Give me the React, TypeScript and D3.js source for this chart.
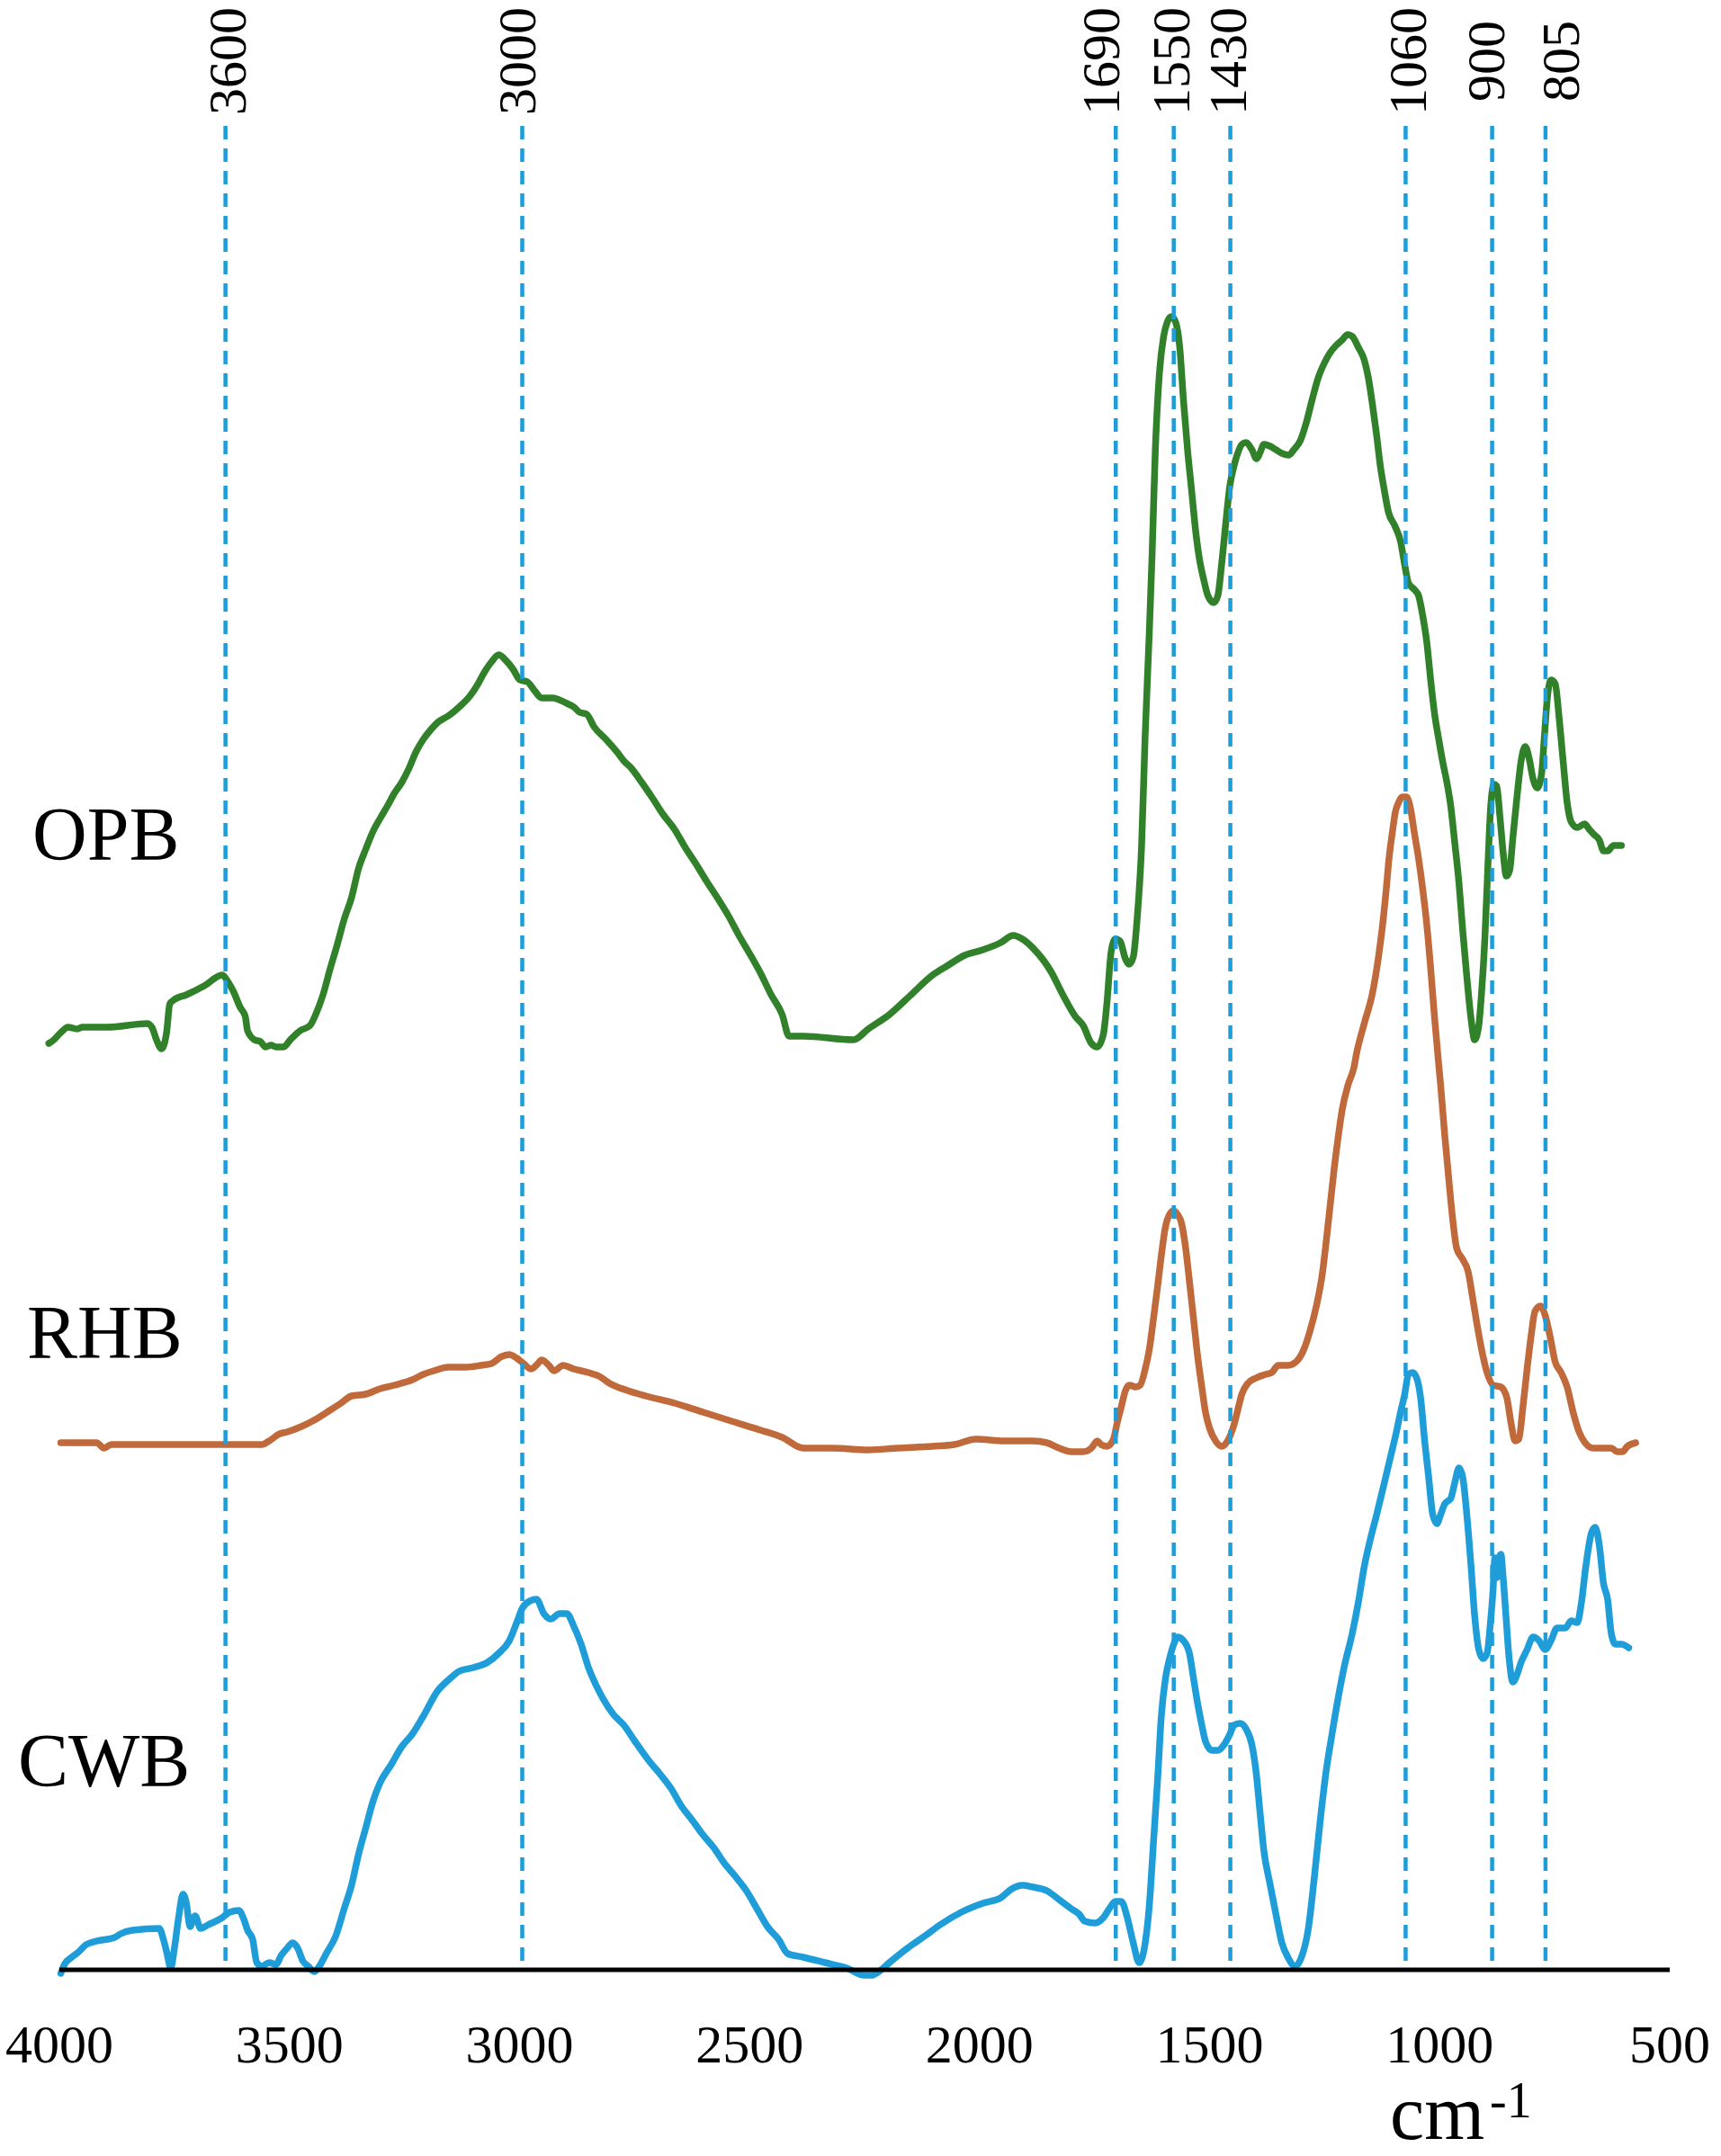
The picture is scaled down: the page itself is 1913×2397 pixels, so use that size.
import React from "react";
import * as d3 from "d3";

// FTIR spectra, stacked; y is an arbitrary offset intensity unit
const xTickValues = [4000, 3500, 3000, 2500, 2000, 1500, 1000, 500];

// band markers: label, where the dashed line sits, where its label is centred
const markerLabels = ["3600", "3000", "1690", "1550", "1430", "1060", "900", "805"];
const markerAt = [3639, 2994, 1704, 1578, 1455, 1074, 886, 770];
const markerLabelAt = [3636, 3007, 1737, 1585, 1462, 1071, 901, 739];

const seriesNames = ["OPB", "RHB", "CWB"];
const seriesColors = ["#31812a", "#c06a3c", "#1e9dd9"];
const seriesLabelY = [61.7, 34, 10.2];

const opbPoints: [number, number][] = [
  [4023, 51.5], [4012, 51.7], [3997, 52.1], [3981, 52.4], [3961, 52.3], [3950, 52.4], [3895, 52.4],
  [3809, 52.6], [3799, 52.4], [3789, 51.7], [3778, 51.2], [3767, 52.1], [3760, 53.7], [3752, 53.9],
  [3724, 54.2], [3685, 54.7], [3646, 55.3], [3633, 54.9], [3622, 54.4], [3607, 53.5], [3596, 53.0],
  [3591, 52.2], [3576, 51.7], [3563, 51.6], [3552, 51.3], [3540, 51.4], [3529, 51.3], [3513, 51.3],
  [3498, 51.7], [3477, 52.2], [3455, 52.5], [3443, 53.1], [3427, 54.2], [3412, 55.6], [3396, 57.0],
  [3381, 58.4], [3365, 59.6], [3350, 61.2], [3334, 62.3], [3318, 63.3], [3303, 64.0], [3287, 64.7],
  [3272, 65.4], [3256, 66.0], [3240, 66.8], [3225, 67.7], [3209, 68.4], [3194, 68.9], [3175, 69.4],
  [3155, 69.7], [3131, 70.2], [3108, 70.8], [3092, 71.4], [3077, 72.1], [3061, 72.7], [3045, 73.1],
  [3030, 72.8], [3014, 72.3], [2999, 71.7], [2983, 71.6], [2967, 71.1], [2952, 70.7], [2928, 70.7],
  [2897, 70.4], [2882, 70.2], [2869, 69.9], [2854, 69.8], [2838, 69.1], [2812, 68.4], [2788, 67.7],
  [2773, 67.2], [2757, 66.8], [2734, 66.0], [2710, 65.1], [2687, 64.2], [2663, 63.4], [2640, 62.4],
  [2617, 61.5], [2593, 60.5], [2570, 59.6], [2546, 58.6], [2523, 57.5], [2500, 56.5], [2476, 55.4],
  [2453, 54.2], [2429, 53.1], [2414, 51.9], [2383, 51.9], [2274, 51.7], [2242, 52.3], [2196, 53.1],
  [2149, 54.2], [2102, 55.3], [2071, 55.8], [2032, 56.4], [1993, 56.7], [1954, 57.1], [1927, 57.5],
  [1907, 57.3], [1884, 56.8], [1845, 55.5], [1819, 54.2], [1792, 53.0], [1775, 52.5], [1757, 51.5],
  [1744, 51.3], [1731, 52.0], [1723, 53.8], [1714, 56.6], [1705, 57.3], [1695, 57.2], [1683, 56.2],
  [1675, 55.9], [1666, 56.3], [1657, 58.6], [1648, 62.4], [1640, 68.7], [1631, 74.4], [1625, 78.7],
  [1618, 84.5], [1609, 88.8], [1600, 90.8], [1592, 91.6], [1583, 91.9], [1574, 91.6], [1565, 90.2],
  [1557, 87.3], [1548, 84.5], [1539, 82.2], [1530, 79.9], [1522, 78.4], [1513, 77.3], [1504, 76.4],
  [1491, 76.0], [1482, 76.4], [1474, 78.1], [1465, 80.4], [1456, 82.5], [1447, 83.6], [1439, 84.3],
  [1430, 84.8], [1421, 84.9], [1408, 84.5], [1398, 84.0], [1391, 84.3], [1382, 84.8], [1369, 84.7],
  [1356, 84.5], [1343, 84.3], [1328, 84.2], [1317, 84.5], [1303, 85.0], [1290, 86.0], [1277, 87.3],
  [1264, 88.5], [1251, 89.3], [1238, 89.9], [1225, 90.3], [1212, 90.6], [1200, 90.9], [1190, 90.8],
  [1177, 90.2], [1164, 89.5], [1155, 88.5], [1146, 87.0], [1137, 85.3], [1129, 83.6], [1120, 82.2],
  [1111, 81.0], [1098, 80.3], [1085, 79.4], [1076, 78.1], [1068, 77.1], [1054, 76.7], [1046, 76.4],
  [1037, 75.3], [1028, 73.8], [1020, 71.8], [1011, 69.8], [1002, 68.4], [993, 67.1], [985, 66.1],
  [976, 64.7], [967, 62.6], [958, 60.4], [950, 57.8], [941, 55.2], [932, 52.9], [924, 51.7],
  [915, 52.5], [909, 54.3], [902, 57.2], [895, 61.5], [889, 64.7], [882, 65.9], [876, 65.8],
  [869, 64.1], [862, 62.1], [855, 60.8], [848, 61.1], [841, 62.9], [832, 65.2], [823, 67.2],
  [814, 68.0], [806, 67.4], [797, 66.2], [788, 65.7], [779, 66.4], [772, 68.7], [766, 70.7],
  [758, 71.7], [749, 71.5], [740, 69.5], [731, 67.0], [723, 64.9], [714, 63.8], [701, 63.5],
  [685, 63.7], [675, 63.4], [664, 63.1], [653, 62.8], [644, 62.2], [635, 62.2], [622, 62.5],
  [605, 62.5],
];

const rhbPoints: [number, number][] = [
  [3997, 29.3], [3973, 29.3], [3919, 29.3], [3903, 29.0], [3887, 29.2], [3817, 29.2], [3646, 29.2],
  [3560, 29.2], [3544, 29.4], [3521, 29.8], [3505, 29.9], [3474, 30.2], [3443, 30.6], [3412, 31.1],
  [3388, 31.5], [3365, 31.9], [3334, 32.0], [3303, 32.3], [3272, 32.5], [3233, 32.8], [3209, 33.1],
  [3186, 33.3], [3155, 33.5], [3116, 33.5], [3084, 33.6], [3061, 33.7], [3038, 34.1], [3022, 34.2],
  [3006, 34.0], [2991, 33.7], [2975, 33.4], [2960, 33.7], [2952, 33.9], [2936, 33.6], [2925, 33.3],
  [2905, 33.6], [2882, 33.4], [2850, 33.2], [2827, 33.0], [2804, 32.6], [2765, 32.2], [2726, 31.9],
  [2663, 31.5], [2601, 31.0], [2539, 30.5], [2476, 30.0], [2429, 29.6], [2383, 29.0], [2320, 29.0],
  [2242, 28.9], [2180, 29.0], [2102, 29.1], [2055, 29.2], [2008, 29.5], [1946, 29.4], [1884, 29.4],
  [1854, 29.3], [1827, 29.0], [1801, 28.8], [1775, 28.8], [1757, 29.0], [1744, 29.4], [1736, 29.2],
  [1723, 29.1], [1709, 29.5], [1701, 30.4], [1692, 31.3], [1683, 32.2], [1674, 32.5], [1661, 32.4],
  [1651, 32.5], [1640, 33.4], [1631, 34.5], [1622, 36.2], [1613, 38.0], [1605, 39.7], [1596, 41.3],
  [1587, 42.0], [1578, 42.2], [1570, 42.0], [1561, 41.5], [1552, 40.1], [1544, 38.3], [1535, 36.2],
  [1526, 34.1], [1517, 32.4], [1509, 31.0], [1500, 30.1], [1487, 29.4], [1474, 29.1], [1461, 29.4],
  [1447, 30.3], [1439, 31.1], [1430, 32.0], [1417, 32.6], [1399, 32.9], [1378, 33.1], [1365, 33.2],
  [1351, 33.6], [1330, 33.6], [1312, 33.8], [1295, 34.5], [1282, 35.5], [1268, 36.9], [1255, 38.7],
  [1247, 40.4], [1238, 42.5], [1229, 44.6], [1220, 46.4], [1212, 47.8], [1199, 49.2], [1186, 50.2],
  [1181, 50.9], [1164, 52.6], [1146, 54.3], [1133, 56.3], [1124, 58.1], [1116, 60.1], [1110, 61.8],
  [1103, 63.2], [1096, 64.4], [1089, 64.9], [1081, 65.2], [1072, 65.2], [1063, 64.5], [1055, 63.2],
  [1046, 61.8], [1037, 60.1], [1028, 58.1], [1020, 55.8], [1011, 52.9], [1002, 50.3], [998, 49.2],
  [989, 46.4], [980, 43.9], [972, 41.8], [963, 40.1], [950, 39.5], [938, 38.8], [928, 37.3],
  [919, 35.9], [909, 34.5], [897, 33.2], [884, 32.5], [867, 32.4], [854, 31.8], [845, 30.4],
  [836, 29.4], [828, 29.5], [819, 31.3], [810, 33.4], [801, 35.3], [793, 36.6], [781, 36.9],
  [771, 36.4], [760, 35.2], [749, 33.8], [736, 33.2], [723, 32.4], [710, 31.0], [697, 29.9],
  [684, 29.3], [666, 29.0], [649, 29.0], [627, 29.0], [614, 28.8], [603, 28.8], [592, 29.1],
  [574, 29.3],
];

const cwbPoints: [number, number][] = [
  [3997, -0.2], [3989, 0.3], [3973, 0.7], [3958, 1.0], [3942, 1.4], [3919, 1.6], [3880, 1.8],
  [3867, 2.0], [3841, 2.2], [3783, 2.3], [3774, 1.7], [3766, 0.9], [3758, 0.1], [3750, 1.2],
  [3742, 2.7], [3731, 4.2], [3724, 3.7], [3716, 2.4], [3705, 3.0], [3693, 2.3], [3677, 2.5],
  [3646, 2.9], [3630, 3.2], [3610, 3.3], [3599, 2.8], [3591, 2.2], [3580, 1.7], [3571, 0.4],
  [3560, 0.2], [3544, 0.4], [3529, 0.3], [3518, 0.8], [3505, 1.2], [3493, 1.5], [3482, 1.2],
  [3471, 0.5], [3459, 0.2], [3446, -0.1], [3435, 0.2], [3420, 0.9], [3399, 1.9], [3381, 3.4],
  [3365, 4.7], [3350, 6.4], [3334, 7.9], [3318, 9.4], [3303, 10.4], [3279, 11.4], [3256, 12.4],
  [3233, 13.1], [3209, 14.1], [3178, 15.5], [3155, 16.1], [3131, 16.6], [3100, 16.8], [3069, 17.1],
  [3045, 17.6], [3022, 18.3], [3006, 19.3], [2994, 20.1], [2978, 20.5], [2963, 20.6], [2947, 19.8],
  [2932, 19.5], [2913, 19.8], [2897, 19.8], [2882, 19.1], [2866, 18.1], [2850, 16.8], [2835, 15.9],
  [2819, 15.1], [2796, 14.2], [2773, 13.6], [2749, 12.7], [2718, 11.6], [2695, 10.9], [2671, 10.1],
  [2648, 9.1], [2624, 8.3], [2601, 7.5], [2578, 6.8], [2554, 5.9], [2531, 5.2], [2507, 4.4],
  [2484, 3.4], [2461, 2.4], [2437, 1.7], [2417, 0.9], [2383, 0.7], [2336, 0.4], [2289, 0.1],
  [2250, -0.3], [2235, -0.3], [2219, -0.1], [2196, 0.4], [2157, 1.2], [2118, 1.9], [2086, 2.5],
  [2040, 3.2], [1993, 3.7], [1954, 4.0], [1930, 4.5], [1907, 4.7], [1884, 4.6], [1854, 4.4],
  [1827, 3.9], [1801, 3.4], [1784, 3.1], [1771, 2.7], [1749, 2.6], [1731, 2.9], [1718, 3.4],
  [1705, 3.8], [1692, 3.8], [1679, 2.9], [1666, 1.5], [1653, 0.4], [1640, 1.5], [1631, 3.6],
  [1622, 7.1], [1613, 10.6], [1605, 14.1], [1596, 16.2], [1587, 17.3], [1578, 18.1], [1570, 18.5],
  [1557, 18.3], [1544, 17.6], [1535, 16.2], [1526, 14.8], [1517, 13.6], [1509, 12.7], [1495, 12.2],
  [1482, 12.2], [1469, 12.5], [1456, 13.1], [1447, 13.6], [1434, 13.7], [1421, 13.4], [1408, 12.5],
  [1399, 11.0], [1391, 8.9], [1382, 6.6], [1369, 4.8], [1356, 3.1], [1343, 1.5], [1330, 0.7],
  [1314, 0.2], [1299, 0.8], [1286, 2.2], [1273, 5.0], [1260, 8.2], [1247, 11.0], [1234, 13.1],
  [1220, 15.2], [1207, 16.9], [1190, 18.7], [1177, 20.4], [1164, 22.4], [1151, 23.9], [1137, 25.3],
  [1120, 27.1], [1107, 28.5], [1094, 29.9], [1085, 31.0], [1076, 32.0], [1068, 33.1], [1059, 33.2],
  [1050, 32.9], [1041, 31.7], [1033, 29.5], [1024, 27.4], [1015, 25.3], [1006, 24.8], [998, 25.3],
  [989, 25.9], [976, 26.2], [967, 27.1], [958, 27.9], [950, 27.4], [941, 25.3], [932, 22.5],
  [924, 19.7], [915, 17.8], [906, 17.3], [897, 17.6], [890, 19.2], [884, 21.1], [880, 22.9],
  [876, 21.8], [871, 22.9], [867, 23.1], [862, 21.8], [856, 19.7], [849, 17.3], [841, 16.0],
  [832, 16.4], [823, 17.1], [810, 17.8], [797, 18.5], [784, 18.3], [771, 17.8], [758, 18.3],
  [745, 19.0], [727, 19.0], [714, 19.4], [701, 19.3], [692, 20.4], [682, 22.5], [670, 24.3],
  [662, 24.6], [653, 23.6], [644, 21.5], [635, 20.6], [627, 18.7], [618, 18.1], [605, 18.1],
  [589, 17.9],
];

const allSeries = [opbPoints, rhbPoints, cwbPoints];

const W = 1913;
const H = 2397;
const FONT = "'Liberation Serif', 'DejaVu Serif', serif";

export default function App() {
  const x = d3.scaleLinear().domain([4000, 500]).range([66, 1856]);
  const y = d3.scaleLinear().domain([0, 100]).range([2190, 190]);

  const line = d3
    .line<[number, number]>()
    .x((d) => x(d[0]))
    .y((d) => y(d[1]))
    .curve(d3.curveMonotoneX);

  const markerTop = 140;

  return (
    <svg
      width={W}
      height={H}
      style={{ position: "absolute", left: 0, top: 0, display: "block", background: "#fff" }}
    >
      {/* spectra */}
      {allSeries.map((pts, i) => (
        <path
          key={seriesNames[i]}
          d={line(pts) || ""}
          fill="none"
          stroke={seriesColors[i]}
          strokeWidth={7.5}
          strokeLinejoin="round"
          strokeLinecap="round"
        />
      ))}

      {/* baseline axis */}
      <line x1={x(4000)} x2={x(500)} y1={y(0)} y2={y(0)} stroke="#000" strokeWidth={5} />
      {xTickValues.map((t) => (
        <text
          key={t}
          x={x(t)}
          y={2293}
          textAnchor="middle"
          fontFamily={FONT}
          fontSize={60}
          fill="#000"
        >
          {t}
        </text>
      ))}

      <text x={1545} y={2378} fontFamily={FONT} fontSize={86} fill="#000">
        cm
        <tspan fontSize={56} dx={6} dy={-24}>
          -1
        </tspan>
      </text>

      {/* series labels */}
      {seriesNames.map((name, i) => (
        <text
          key={name}
          x={[36, 30, 20][i]}
          y={y(seriesLabelY[i])}
          fontFamily={FONT}
          fontSize={84}
          fill="#000"
        >
          {name}
        </text>
      ))}

      {/* band markers */}
      {markerLabels.map((lab, i) => (
        <g key={lab}>
          <line
            x1={x(markerAt[i])}
            x2={x(markerAt[i])}
            y1={markerTop}
            y2={y(0)}
            stroke="#1e9dd9"
            strokeWidth={4.5}
            strokeDasharray="15 10"
          />
          <text
            transform={`translate(${x(markerLabelAt[i])},68) rotate(-90)`}
            textAnchor="middle"
            dy="0.35em"
            fontFamily={FONT}
            fontSize={60}
            fill="#000"
          >
            {lab}
          </text>
        </g>
      ))}
    </svg>
  );
}
